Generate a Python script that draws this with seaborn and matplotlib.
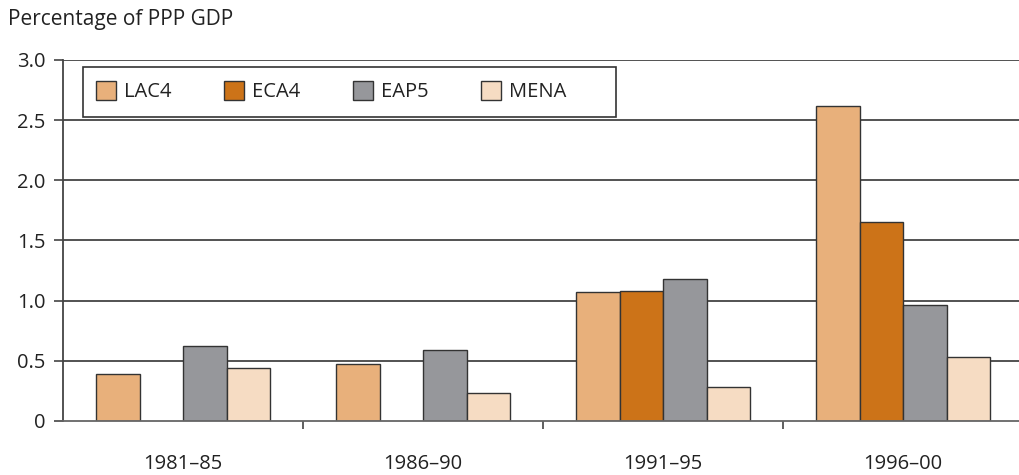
import matplotlib
matplotlib.use("Agg")
import matplotlib.pyplot as plt
import matplotlib.patches as mpatches
import numpy as np
import pandas as pd
import seaborn as sns

# Data
periods = ["1981–85", "1986–90", "1991–95", "1996–00"]
regions = ["LAC4", "ECA4", "EAP5", "MENA"]
lac4 = [0.39, 0.47, 1.07, 2.62]
eca4 = [np.nan, np.nan, 1.08, 1.65]
eap5 = [0.62, 0.59, 1.18, 0.96]
mena = [0.44, 0.23, 0.28, 0.53]
yticks = [0, 0.5, 1.0, 1.5, 2.0, 2.5, 3.0]
ytick_labels = ["0", "0.5", "1.0", "1.5", "2.0", "2.5", "3.0"]

colors = ["#E8B07B", "#CC7318", "#96979B", "#F6DCC3"]

df = pd.DataFrame({
    "period": periods * 4,
    "region": [r for r in regions for _ in periods],
    "value": lac4 + eca4 + eap5 + mena,
})

sns.set_style("white")
plt.rcParams["font.family"] = ["Open Sans", "DejaVu Sans"]
plt.rcParams["font.size"] = 14.5

fig = plt.figure(figsize=(10.2, 4.75), dpi=100)
ax = fig.add_axes([0.0618, 0.1137, 0.9412, 0.76])

sns.barplot(data=df, x="period", y="value", hue="region", order=periods,
            hue_order=regions, palette=colors, width=0.725, gap=0,
            edgecolor="#333333", linewidth=1.0, saturation=1, ax=ax,
            legend=False)

ax.set_ylim(0, 3.0)
ax.set_xlim(-0.5, 3.5)
ax.set_yticks(yticks)
ax.set_yticklabels(ytick_labels, color="#222222")
for y in yticks[1:]:
    ax.axhline(y, color="#444444", lw=1.3, zorder=0)

for side in ["top", "right"]:
    ax.spines[side].set_visible(False)
ax.spines["left"].set_color("#444444")
ax.spines["bottom"].set_color("#666666")
ax.spines["left"].set_linewidth(1.3)
ax.spines["bottom"].set_linewidth(1.3)

ax.tick_params(axis="y", which="major", direction="out", length=6.5,
               width=1.2, color="#444444", pad=6, left=True)
ax.set_xticks([0.5, 1.5, 2.5], minor=True)
ax.tick_params(axis="x", which="minor", direction="out", length=6,
               width=1.2, color="#444444", bottom=True)
ax.tick_params(axis="x", which="major", length=0, pad=24, colors="#222222")

ax.set_xlabel("")
ax.set_ylabel("")

fig.text(0.008, 1 - 20 / 475, "Percentage of PPP GDP", fontsize=15,
         va="center", ha="left", color="#222222")

# legend with a manually sized box (box extends past the last entry)
handles = [mpatches.Patch(facecolor=c, edgecolor="#333333", lw=1.0) for c in colors]
leg = ax.legend(handles, regions, ncol=4, loc="center left",
                bbox_to_anchor=(0.034, 0.9115), frameon=False,
                handlelength=1.0, handleheight=1.0, handletextpad=0.4,
                columnspacing=2.6, borderaxespad=0, borderpad=0, fontsize=14.5)
for t in leg.get_texts():
    t.set_color("#222222")
frame = mpatches.Rectangle((0.021, 0.842), 0.555, 0.139, transform=ax.transAxes,
                           facecolor="white", edgecolor="#333333", lw=1.2, zorder=4)
ax.add_patch(frame)
leg.set_zorder(5)

fig.savefig("out.png", dpi=100)
